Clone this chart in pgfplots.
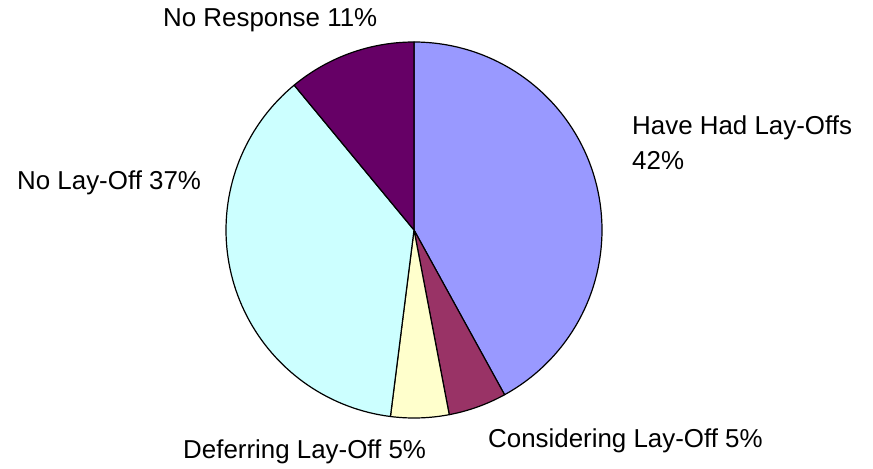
\documentclass[border=0pt]{standalone}
\usepackage{fontspec}
\setmainfont{Liberation Sans}
\usepackage{pgfplots}
\pgfplotsset{compat=1.18}

% slice colours
\definecolor{hadLayoffs}{HTML}{9999FF}
\definecolor{considering}{HTML}{993366}
\definecolor{deferring}{HTML}{FFFFCC}
\definecolor{noLayoff}{HTML}{CCFFFF}
\definecolor{noResponse}{HTML}{660066}

% shares in percent, clockwise from twelve o'clock
\def\sA{42}
\def\sB{5}
\def\sC{5}
\def\sD{37}
\def\sE{11}

% pie centre and radius (axis units)
\def\cx{414}
\def\cy{239}
\def\rr{188}

% #1 = cumulative share before the slice, #2 = share, #3 = colour
\newcommand{\pieslice}[3]{%
  \addplot[fill=#3, draw=black, line width=1.2bp, line join=round,
    domain={90-3.6*(#1+#2)}:{90-3.6*(#1)}, samples=80]
    ({\cx+\rr*cos(x)},{\cy+\rr*sin(x)}) -- (\cx,\cy) -- cycle;
}

\tikzset{lbl/.style={anchor=base west, inner sep=0pt,
  font=\fontsize{25.9bp}{31bp}\selectfont}}

\begin{document}
\begin{tikzpicture}
\begin{axis}[
  width=873bp, height=469bp, scale only axis,
  xmin=0, xmax=873, ymin=0, ymax=469,
  hide axis, clip=false,
]
\path (rel axis cs:0,0) rectangle (rel axis cs:1,1);

\pieslice{0}{\sA}{hadLayoffs}
\pieslice{\sA}{\sB}{considering}
\pieslice{\sA+\sB}{\sC}{deferring}
\pieslice{\sA+\sB+\sC}{\sD}{noLayoff}
\pieslice{\sA+\sB+\sC+\sD}{\sE}{noResponse}

\node[lbl] at (axis cs:632,334) {Have Had Lay-Offs};
\node[lbl] at (axis cs:632,299) {\sA\%};
\node[lbl] at (axis cs:488,22) {Considering Lay-Off \sB\%};
\node[lbl] at (axis cs:183,11) {Deferring Lay-Off \sC\%};
\node[lbl] at (axis cs:17,279) {No Lay-Off \sD\%};
\node[lbl] at (axis cs:163,442) {No Response \sE\%};
\end{axis}
\end{tikzpicture}
\end{document}
